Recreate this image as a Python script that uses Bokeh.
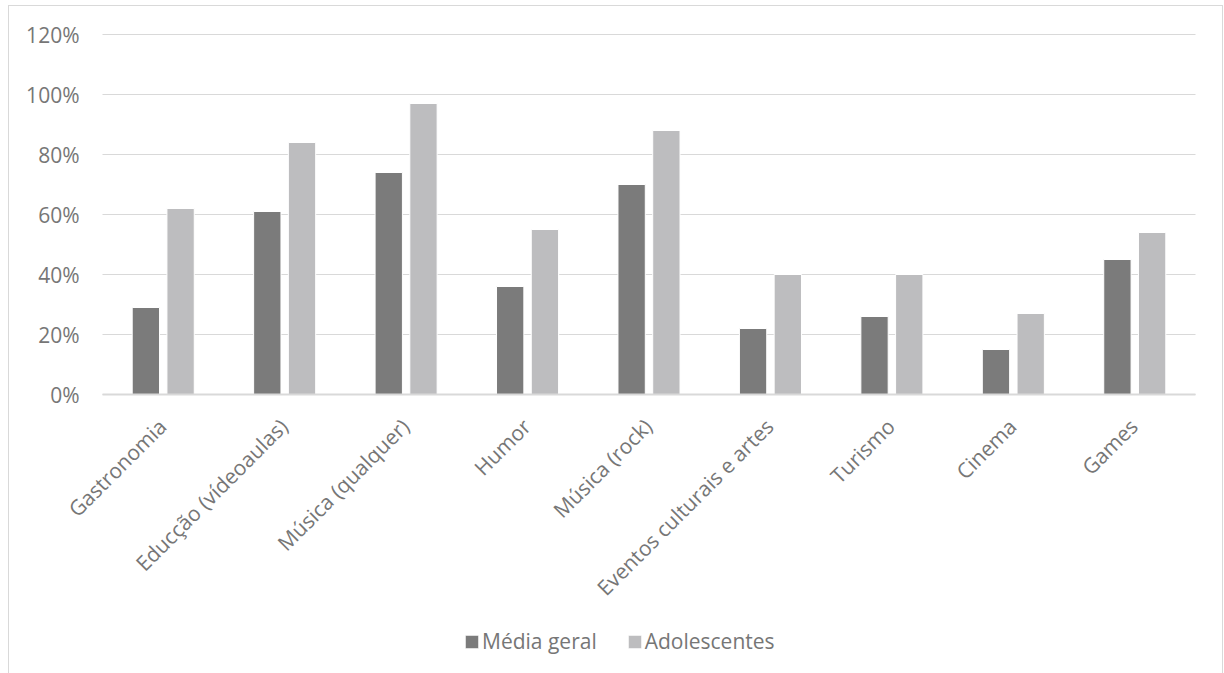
from math import pi
import numpy as np
from bokeh.plotting import figure
from bokeh.models import ColumnDataSource, Range1d, Legend, LegendItem
from bokeh.core.properties import value
from bokeh.transform import dodge
from bokeh.embed import file_html
from bokeh.resources import INLINE

categories = ["Gastronomia", "Educção (vídeoaulas)", "Música (qualquer)", "Humor",
              "Música (rock)", "Eventos culturais e artes", "Turismo", "Cinema", "Games"]
media_geral = [0.29, 0.61, 0.74, 0.36, 0.70, 0.22, 0.26, 0.15, 0.45]
adolescentes = [0.62, 0.84, 0.97, 0.55, 0.88, 0.40, 0.40, 0.27, 0.54]
y_ticks = [0, 0.2, 0.4, 0.6, 0.8, 1.0, 1.2]
y_tick_labels = ["0%", "20%", "40%", "60%", "80%", "100%", "120%"]

n = len(categories)
pos = np.arange(n) + 0.5
src = ColumnDataSource(dict(cat=categories, x=pos, m=media_geral, a=adolescentes,
                            base=[0] * n))
ticks_src = ColumnDataSource(dict(y=y_ticks, lab=y_tick_labels, x0=[0] * len(y_ticks),
                                  x1=[n] * len(y_ticks)))

TXT = "#767676"
GRID = "#d9d9d9"
FONT = "Open Sans"

# layout constants (pixels)
W, H = 1215, 668
PLOT_L, PLOT_R = 93, 29       # plotting area inside the figure
PLOT_T = 28
PX_X = (W - PLOT_L - PLOT_R) / n
PX_Y = 300.0                  # px per unit (60 px per 20 %)

x_range = Range1d(-PLOT_L / PX_X, n + PLOT_R / PX_X)
y_end = y_ticks[-1] + PLOT_T / PX_Y
y_range = Range1d(y_end - H / PX_Y, y_end)

p = figure(x_range=x_range, y_range=y_range, width=W, height=H,
           output_backend="svg", toolbar_location=None,
           min_border_left=0, min_border_right=0, min_border_top=0, min_border_bottom=0)
p.margin = (5, 0, 0, 8)
p.styles = {"border-left": "1px solid #d9d9d9", "border-top": "1px solid #d9d9d9",
            "border-right": "1px solid #d9d9d9", "box-sizing": "border-box"}
p.outline_line_color = None
p.background_fill_color = "white"
p.border_fill_color = "white"
p.xaxis.visible = False
p.yaxis.visible = False
p.xgrid.visible = False
p.ygrid.visible = False

# horizontal gridlines
p.segment(x0="x0", x1="x1", y0="y", y1="y", source=ticks_src,
          line_color=GRID, line_width=1)

r1 = p.vbar(x=dodge("x", -0.143), top="m", width=0.225, source=src,
            fill_color="#7b7b7b", line_color="white", line_width=1)
r2 = p.vbar(x=dodge("x", 0.143), top="a", width=0.225, source=src,
            fill_color="#bdbdbf", line_color="white", line_width=1)

# baseline (axis line)
p.segment(x0=[0], x1=[n], y0=[0], y1=[0], line_color=GRID, line_width=2)

# y tick labels
p.text(x="x0", y="y", text="lab", source=ticks_src, x_offset=-23,
       text_align="right", text_baseline="middle",
       text_font=value(FONT), text_font_size="21px", text_color=TXT)

# category labels rotated 45 degrees
p.text(x="x", y="base", text="cat", source=src, angle=pi / 4,
       text_align="right", text_baseline="middle", x_offset=-1, y_offset=28,
       text_font=value(FONT), text_font_size="21px", text_color=TXT)

legend = Legend(items=[LegendItem(label="Média geral", renderers=[r1]),
                       LegendItem(label="Adolescentes", renderers=[r2])],
                orientation="horizontal", location=(454, 19),
                glyph_width=17, glyph_height=17, label_standoff=2, spacing=29,
                padding=0, margin=0, border_line_color=None, background_fill_alpha=0,
                label_text_font=FONT, label_text_font_size="21px", label_text_color=TXT)
p.add_layout(legend, "center")

open("out.html", "w").write(file_html(p, INLINE))
